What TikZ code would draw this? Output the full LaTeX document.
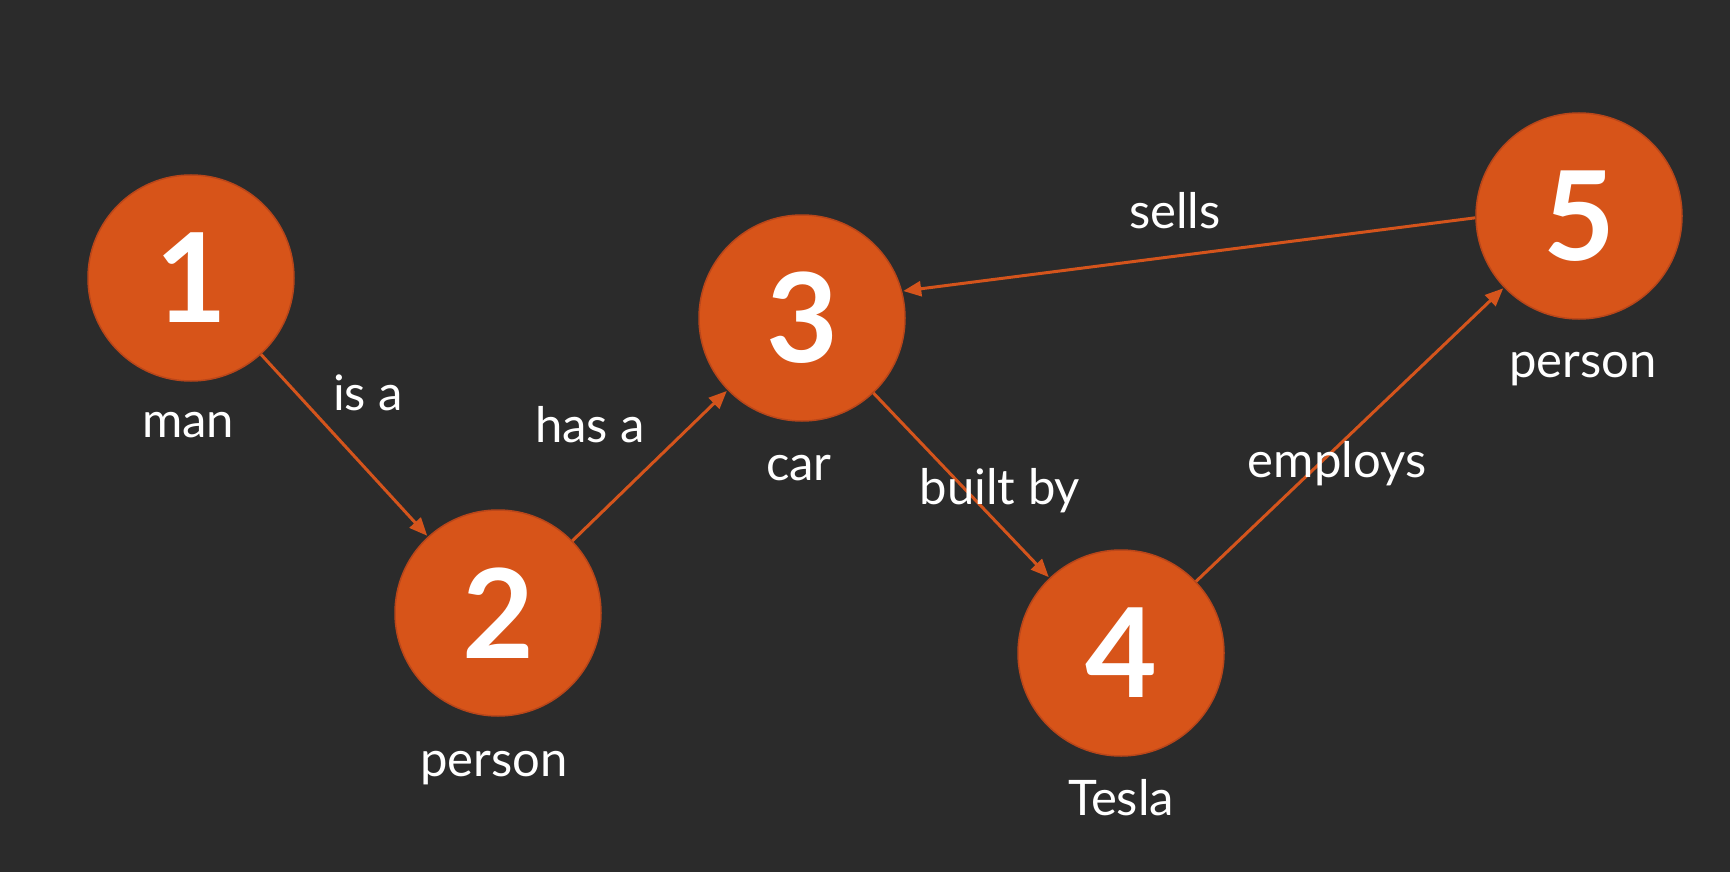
\documentclass[tikz,border=0pt]{standalone}
\usepackage{fontspec}
\setmainfont{Lato}
\usetikzlibrary{arrows.meta}
\definecolor{bg}{HTML}{2B2B2B}
\definecolor{orfill}{HTML}{D75419}
\definecolor{orline}{HTML}{B9461A}
\definecolor{arr}{HTML}{D4541C}
\tikzset{
  ent/.style={circle, fill=orfill, draw=orline, line width=1.5pt, minimum size=206pt, inner sep=0pt, text=white, font=\fontsize{124}{124}\selectfont\bfseries},
  lbl/.style={text=white, font=\fontsize{49}{52}\selectfont, inner sep=0pt, anchor=base},
  rel/.style={draw=arr, line width=3pt, -{Triangle[length=18pt,width=15pt]}, shorten >=1pt}
}
\begin{document}
\begin{tikzpicture}[x=1pt,y=-1pt]
\fill[bg] (0,0) rectangle (1730,872);
\useasboundingbox (0,0) rectangle (1730,872);
\node[ent] (n1) at (191,278) {1};
\node[ent] (n2) at (498,613) {2};
\node[ent] (n3) at (802,318) {3};
\node[ent] (n4) at (1121,653) {4};
\node[ent] (n5) at (1579,216) {5};
\node[lbl] (l1) at (188,437) {man};
\node[lbl] (l2) at (494,776) {person};
\node[lbl] (l3) at (799,480) {car};
\node[lbl] (l4) at (1121,815) {Tesla};
\node[lbl] (l5) at (1583,377) {person};
\draw[rel] (n1) -- (n2);
\draw[rel] (n2) -- (n3);
\draw[rel] (n3) -- (n4);
\draw[rel] (n4) -- (n5);
\draw[rel] (n5.181) -- (n3.15);
\node[lbl] (e1) at (368,410) {is a};
\node[lbl] (e2) at (590,442) {has a};
\node[lbl] (e3) at (1000,504) {built by};
\node[lbl] (e4) at (1337,477) {employs};
\node[lbl] (e5) at (1175,228) {sells};
\end{tikzpicture}
\end{document}
